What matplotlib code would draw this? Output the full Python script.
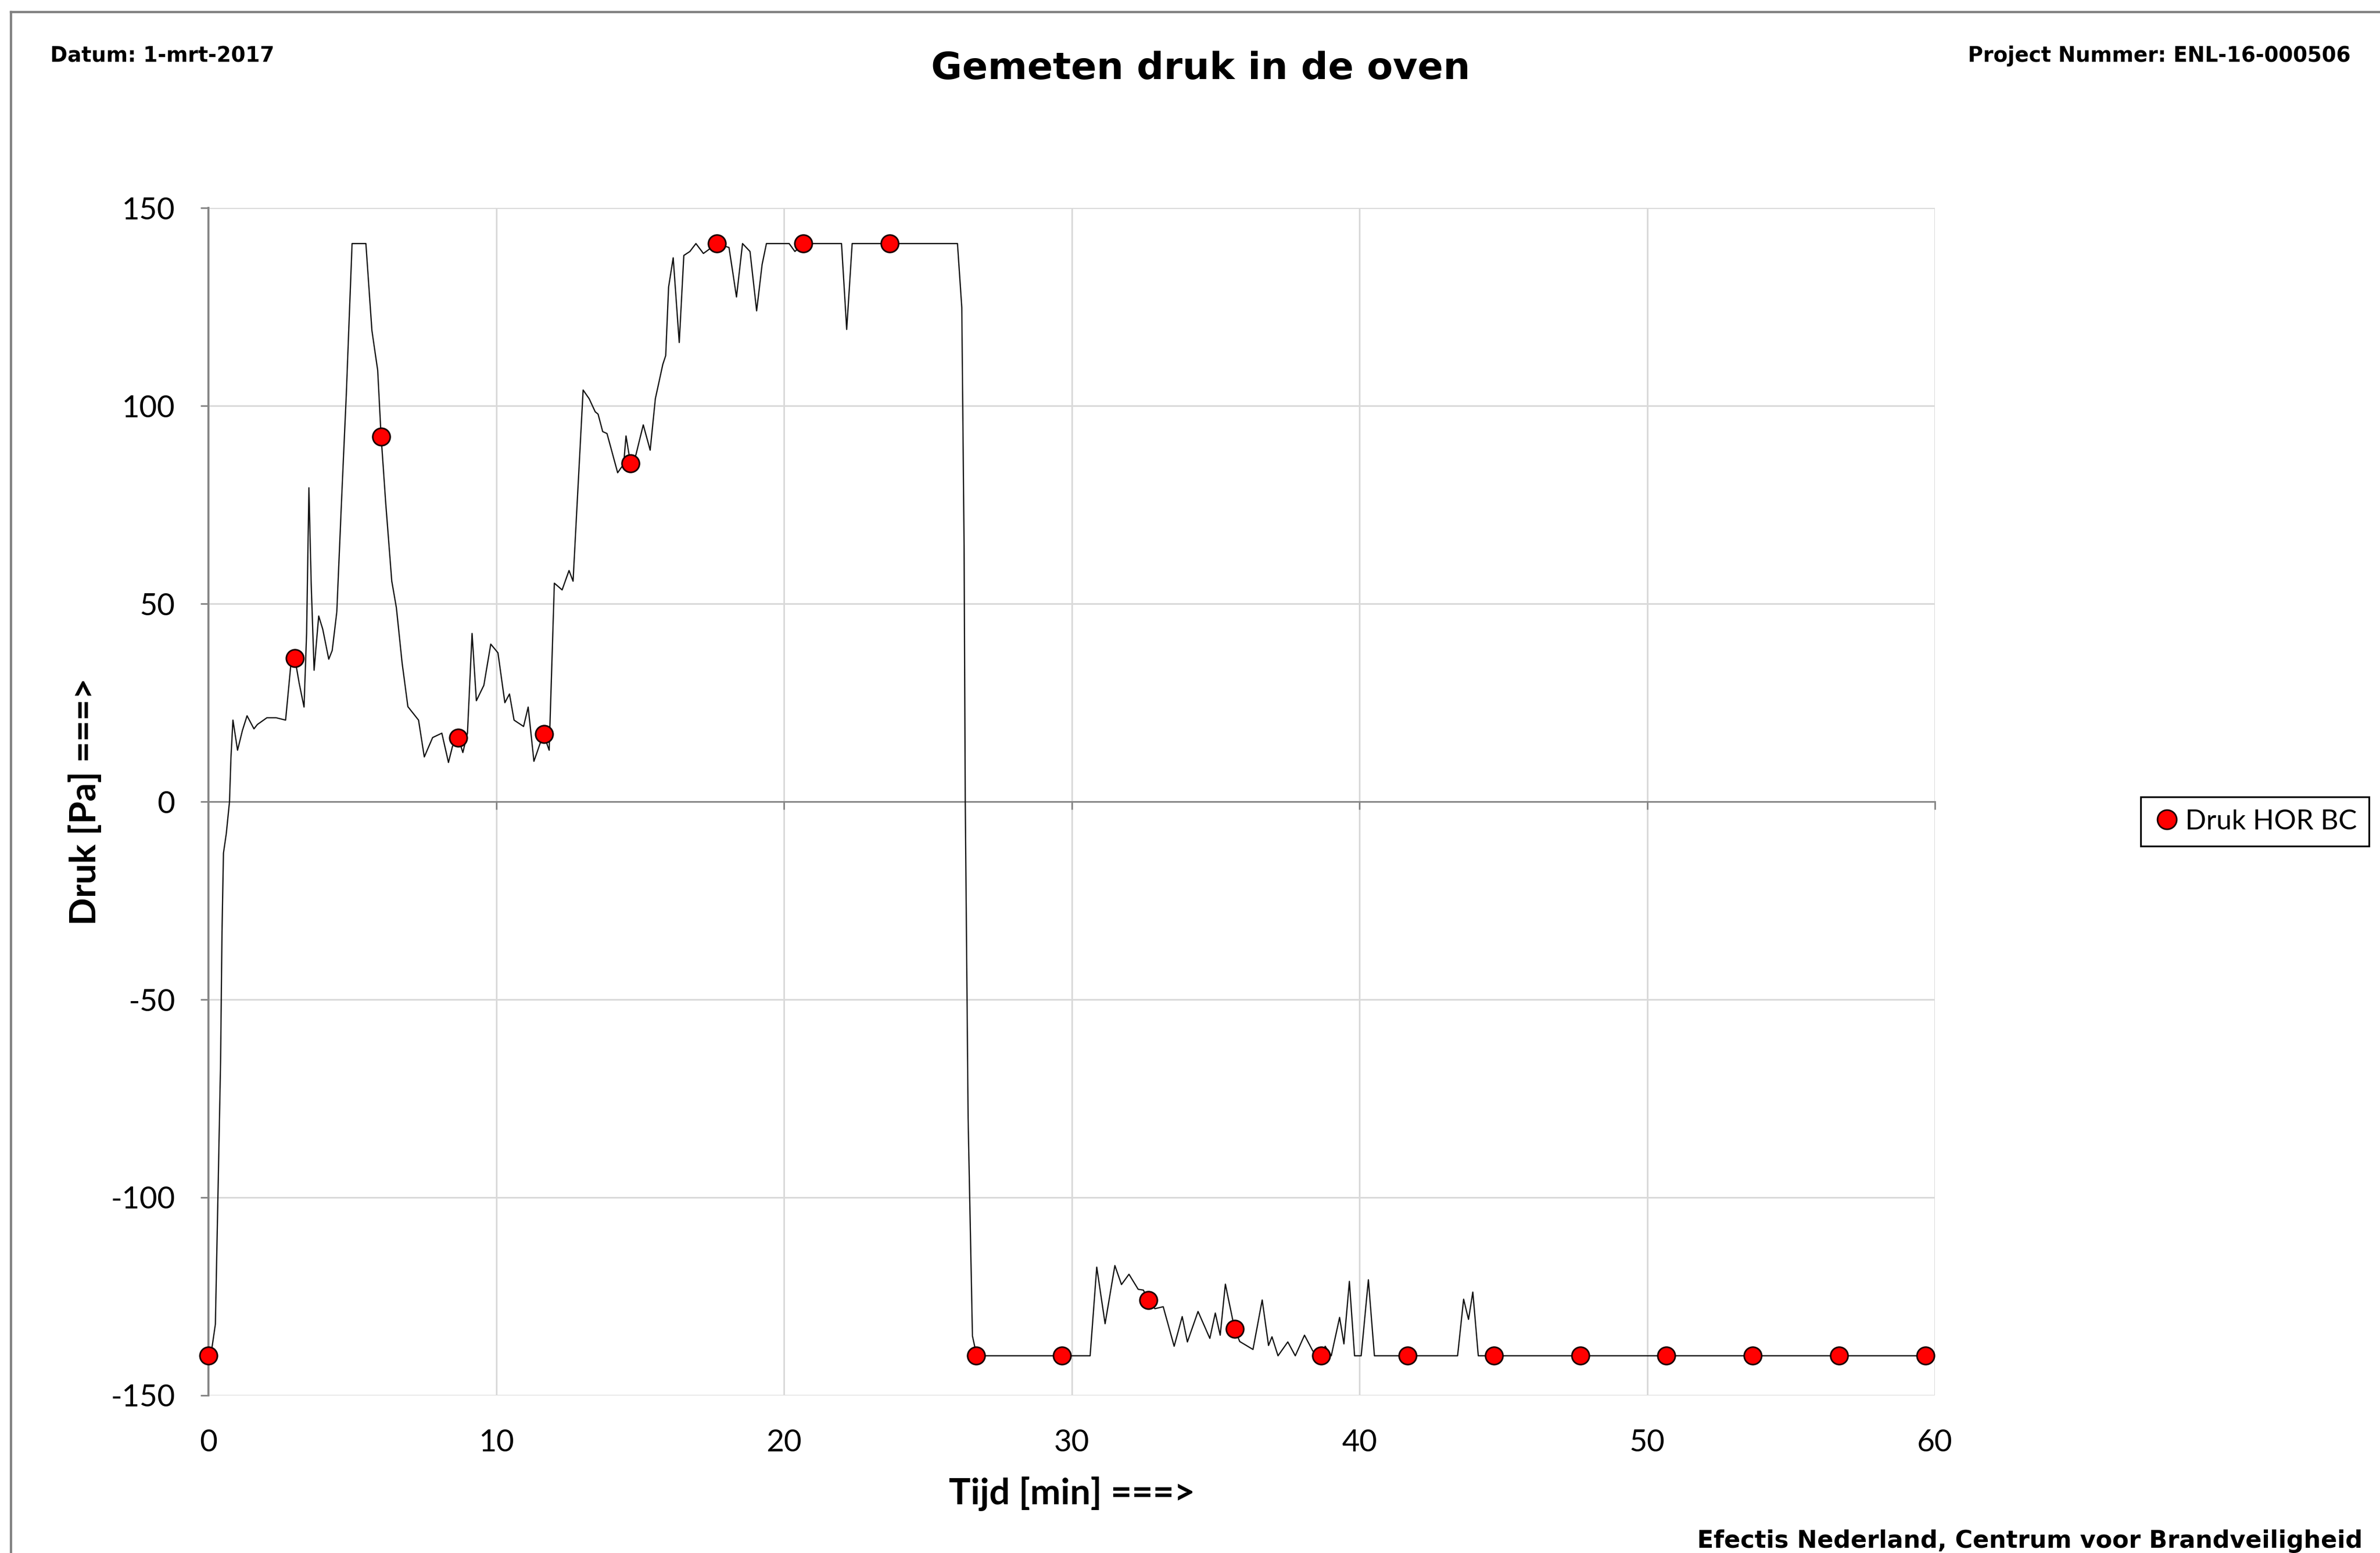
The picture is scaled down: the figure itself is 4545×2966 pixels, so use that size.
import numpy as np
import matplotlib.pyplot as plt
from matplotlib.lines import Line2D

tijd = [0, 0.12, 0.24, 0.33, 0.42, 0.47, 0.52, 0.62, 0.73, 0.78, 0.85, 1.01, 1.18, 1.34, 1.58, 1.70,
        2.03, 2.35, 2.68, 2.88, 3.0, 3.15, 3.32, 3.41, 3.49, 3.57, 3.67, 3.83, 3.97, 4.18, 4.30, 4.46,
        4.62, 4.79, 4.99, 5.47, 5.68, 5.88, 6.0, 6.16, 6.37, 6.53, 6.73, 6.93, 7.30, 7.50, 7.79, 8.11,
        8.34, 8.48, 8.68, 8.84, 9.0, 9.16, 9.31, 9.57, 9.81, 10.06, 10.3, 10.46, 10.62, 10.95, 11.11,
        11.31, 11.52, 11.64, 11.84, 12.02, 12.29, 12.53, 12.67, 13.02, 13.23, 13.44, 13.54, 13.70,
        13.85, 14.22, 14.43, 14.51, 14.62, 14.69, 14.85, 15.11, 15.35, 15.53, 15.79, 15.89, 15.99,
        16.15, 16.36, 16.52, 16.73, 16.94, 17.2, 17.67, 18.09, 18.35, 18.56, 18.82, 19.05, 19.24,
        19.39, 20.18, 20.38, 20.68, 22.0, 22.18, 22.37, 23.68, 26.03, 26.18, 26.26, 26.3, 26.4,
        26.55, 26.7, 29.68, 30.64, 30.87, 31.16, 31.5, 31.73, 31.99, 32.31, 32.49, 32.66, 32.89,
        33.18, 33.56, 33.84, 34.02, 34.39, 34.80, 34.99, 35.16, 35.34, 35.66, 35.84, 36.30, 36.62,
        36.84, 36.96, 37.17, 37.51, 37.77, 38.09, 38.38, 38.64, 38.81, 39.02, 39.31, 39.46, 39.65,
        39.83, 40.06, 40.31, 40.52, 41.62, 43.41, 43.62, 43.79, 43.94, 44.13, 44.6, 59.7]
druk = [-140, -138, -132, -99, -66, -33, -13, -8, 0, 11, 20.6, 13, 18, 21.7, 18.4, 19.5,
        21.2, 21.2, 20.6, 36, 36.3, 30, 23.9, 42.5, 79.3, 55, 33.2, 46.9, 43.6, 36, 38.2, 48,
        75.4, 103, 141, 141, 119, 109, 92.2, 75.4, 55.7, 49, 35, 24, 20.6, 11.3, 16.2, 17.3,
        9.9, 14, 16.2, 12.4, 17.3, 42.5, 25.5, 29.4, 39.8, 37.6, 25, 27.2, 20.6, 19, 23.9,
        10.2, 14.6, 17.1, 13, 55.2, 53.5, 58.4, 55.7, 104, 101.8, 98.5, 97.9, 93.5,
        93, 83.1, 85.3, 92.4, 87.5, 85.5, 87.5, 95.2, 88.8, 101.8, 110.5, 112.7, 130,
        137.4, 116, 138, 139, 141, 138.5, 141, 140, 127.5, 141, 139, 124, 135.7,
        141, 141, 139, 141, 141, 119.3, 141, 141, 141, 124.8, 64.5, 0, -80,
        -135, -140, -140, -140, -117.6, -131.9, -117.2, -122, -119.4, -123.2, -123.4, -125.9, -128.1,
        -127.6, -137.6, -130.1, -136.5, -128.8, -135.6, -129.2, -134.8, -121.9, -133.2, -136.4, -138.4, -125.9,
        -137.4, -135.2, -140, -136.5, -140, -134.8, -138.8, -140, -137.6, -140, -130.3, -137, -121.2,
        -140, -140, -120.8, -140, -140, -140, -125.7, -130.8, -123.9, -140, -140, -140]

# red markers (every third minute)
marker_tijd = [0, 3.0, 6.0, 8.68, 11.67, 14.67, 17.67, 20.67, 23.67, 26.67, 29.67,
               32.67, 35.67, 38.67, 41.67, 44.67, 47.67, 50.67, 53.67, 56.67, 59.67]
marker_druk = [-140, 36.3, 92.2, 16.2, 17.1, 85.5, 141, 141, 141, -140, -140,
               -125.9, -133.2, -140, -140, -140, -140, -140, -140, -140, -140]

xticks = [0, 10, 20, 30, 40, 50, 60]
yticks = [-150, -100, -50, 0, 50, 100, 150]
ytick_labels = ["-150", "-100", "-50", "0", "50", "100", "150"]

fig = plt.figure(figsize=(45.45, 29.66), dpi=100)
ax = fig.add_axes([0.0876, 0.1015, 0.7254, 0.7646])

grid_col = "#d9d9d9"
axis_col = "#868686"

ax.set_xlim(0, 60)
ax.set_ylim(-150, 150)
ax.set_xticks(xticks)
ax.set_yticks(yticks)
ax.set_yticklabels(ytick_labels, fontfamily="Lato", fontsize=42)
ax.grid(True, color=grid_col, linewidth=2.2)
ax.set_axisbelow(True)

for s in ["top", "right"]:
    ax.spines[s].set_visible(False)
ax.spines["left"].set_color(axis_col)
ax.spines["left"].set_linewidth(2.8)
ax.spines["bottom"].set_position(("data", 0))
ax.spines["bottom"].set_color(axis_col)
ax.spines["bottom"].set_linewidth(2.2)
ax.tick_params(axis="y", direction="out", length=11, width=2.2, color=axis_col, pad=35)
ax.tick_params(axis="x", direction="out", length=11, width=2.2, color=axis_col, labelbottom=False)

# x tick labels at the bottom of the plot (Excel "low" labels)
sec = ax.secondary_xaxis(0.0)
sec.set_xticks(xticks)
sec.set_xticklabels([str(v) for v in xticks], fontfamily="Lato", fontsize=42)
sec.tick_params(length=0, pad=46)
sec.spines["bottom"].set_visible(False)

ax.plot(tijd, druk, color="#111111", linewidth=1.7, zorder=3)
ax.plot(marker_tijd, marker_druk, linestyle="none", marker="o", markersize=24,
        markerfacecolor="#ff0000", markeredgecolor="#1a0000", markeredgewidth=2.2,
        clip_on=False, zorder=4, label="Druk HOR BC")

leg = ax.legend(loc="upper left", bbox_to_anchor=(0.8995, 0.4869), bbox_transform=fig.transFigure,
                borderaxespad=0, frameon=True, fancybox=False, framealpha=1,
                prop={"family": "Lato", "size": 38}, handlelength=1.0, handletextpad=0.15,
                borderpad=0.45, markerscale=1.1)
leg.get_frame().set_edgecolor("black")
leg.get_frame().set_linewidth(2.4)

# texts around the chart
fig.text(0.5045, 0.9491, "Gemeten druk in de oven", ha="center", va="baseline",
         fontfamily="DejaVu Sans", fontweight="bold", fontsize=52)
fig.text(0.0211, 0.9602, "Datum: 1-mrt-2017", ha="left", va="baseline",
         fontfamily="DejaVu Sans", fontweight="bold", fontsize=28.5)
fig.text(0.9877, 0.9602, "Project Nummer: ENL-16-000506", ha="right", va="baseline",
         fontfamily="DejaVu Sans", fontweight="bold", fontsize=28.5)
fig.text(0.9927, 0.0035, "Efectis Nederland, Centrum voor Brandveiligheid", ha="right", va="baseline",
         fontfamily="DejaVu Sans", fontweight="bold", fontsize=33)
fig.text(0.0359, 0.4838, "Druk [Pa] ===>", rotation=90, ha="center", va="center",
         fontfamily="Lato", fontweight="bold", fontsize=50)
fig.text(0.4504, 0.0381, "Tijd [min] ===>", ha="center", va="center",
         fontfamily="Lato", fontweight="bold", fontsize=50)

# page frame (top and left edge)
fig.add_artist(Line2D([0.0046, 1.0], [0.9922, 0.9922], transform=fig.transFigure,
                      color="#808080", linewidth=3.2))
fig.add_artist(Line2D([0.0046, 0.0046], [0.0, 0.9922], transform=fig.transFigure,
                      color="#808080", linewidth=3.2))

fig.savefig("out.png", dpi=100)
